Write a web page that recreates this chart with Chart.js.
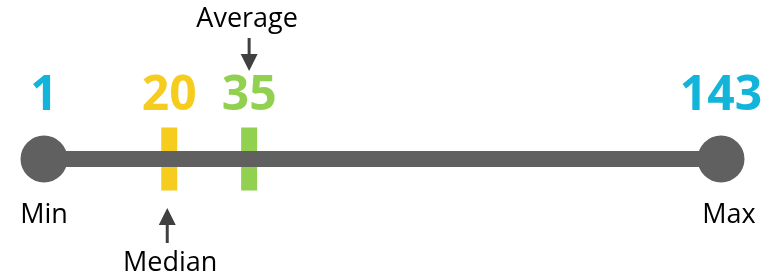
<!DOCTYPE html>
<html><head><meta charset="utf-8">
<script src="https://cdn.jsdelivr.net/npm/chart.js@4/dist/chart.umd.min.js"></script>
<style>html,body{margin:0;padding:0;background:#fff}canvas{display:block}</style>
</head><body>
<canvas id="c" width="768" height="272"></canvas>
<script>
// ---- data ----
const statNames  = ['Min', 'Median', 'Average', 'Max'];
const statValues = [1, 20, 35, 143];
// where each statistic sits along the drawn line (% of line length)
const linePosition = [0, 18.5, 30.3, 100];

// ---- styles ----
const CYAN = '#12b5d9', YELLOW = '#f6cc1f', GREEN = '#92d050', GREY = '#606060', ARROW = '#404040';
const numColors = [CYAN, YELLOW, GREEN, CYAN];
const markColors = [null, YELLOW, GREEN, null];

const labelPlugin = {
  id: 'labels',
  afterDatasetsDraw(chart) {
    const ctx = chart.ctx, xs = chart.scales.x, ys = chart.scales.y;
    const yc = ys.getPixelForValue(0);
    ctx.save();
    ctx.textAlign = 'center';
    ctx.textBaseline = 'alphabetic';
    statValues.forEach((v, i) => {
      const x = xs.getPixelForValue(linePosition[i]);
      ctx.fillStyle = numColors[i];
      ctx.font = 'bold 48px "Open Sans"';
      ctx.fillText(String(v), x, yc - 49);
      const name = statNames[i];
      if (name === 'Median') drawArrow(ctx, x - 2, yc + 84, yc + 49);
      if (name === 'Average') drawArrow(ctx, x, yc - 121, yc - 88);
      ctx.fillStyle = '#000';
      ctx.font = '27px "Open Sans"';
      if (name === 'Min' || name === 'Max') {
        ctx.fillText(name, x + (name === 'Max' ? 8 : 0), yc + 64);
      } else if (name === 'Median') {
        ctx.fillText(name, x + 1, yc + 112);
      } else {
        ctx.fillText(name, x - 2, yc - 132);
      }
    });
    ctx.restore();
  }
};
function drawArrow(ctx, x, yFrom, yTo) {
  const dir = Math.sign(yTo - yFrom), head = 17, hw = 8.5;
  ctx.strokeStyle = ARROW; ctx.fillStyle = ARROW; ctx.lineWidth = 3;
  ctx.beginPath(); ctx.moveTo(x, yFrom); ctx.lineTo(x, yTo - dir * head + dir); ctx.stroke();
  ctx.beginPath(); ctx.moveTo(x, yTo); ctx.lineTo(x - hw, yTo - dir * head); ctx.lineTo(x + hw, yTo - dir * head); ctx.closePath(); ctx.fill();
}

new Chart(document.getElementById('c'), {
  type: 'scatter',
  data: {
    datasets: [
      {
        label: 'Range',
        type: 'line',
        clip: false,
        data: [{x: linePosition[0], y: 0}, {x: linePosition[3], y: 0}],
        borderColor: GREY, backgroundColor: GREY, borderWidth: 16,
        pointRadius: 23.5, pointBackgroundColor: GREY, pointBorderWidth: 0,
        pointHoverRadius: 23.5
      },
      {
        label: 'Median / Average',
        clip: false,
        data: [{x: linePosition[1], y: 0}, {x: linePosition[2], y: 0}],
        pointStyle: 'line', rotation: 90, pointRadius: 31.5, pointHoverRadius: 31.5,
        pointBorderWidth: 16, borderColor: [markColors[1], markColors[2]],
        pointBorderColor: [markColors[1], markColors[2]]
      }
    ]
  },
  options: {
    responsive: false, animation: false, devicePixelRatio: 1,
    layout: { autoPadding: false, padding: { left: 44, right: 47, top: 46, bottom: 0 } },
    plugins: { legend: { display: false }, tooltip: { enabled: false } },
    events: [],
    scales: {
      x: { type: 'linear', min: 0, max: 100, display: false },
      y: { min: -1, max: 1, display: false }
    }
  },
  plugins: [labelPlugin]
});
</script>
</body></html>
